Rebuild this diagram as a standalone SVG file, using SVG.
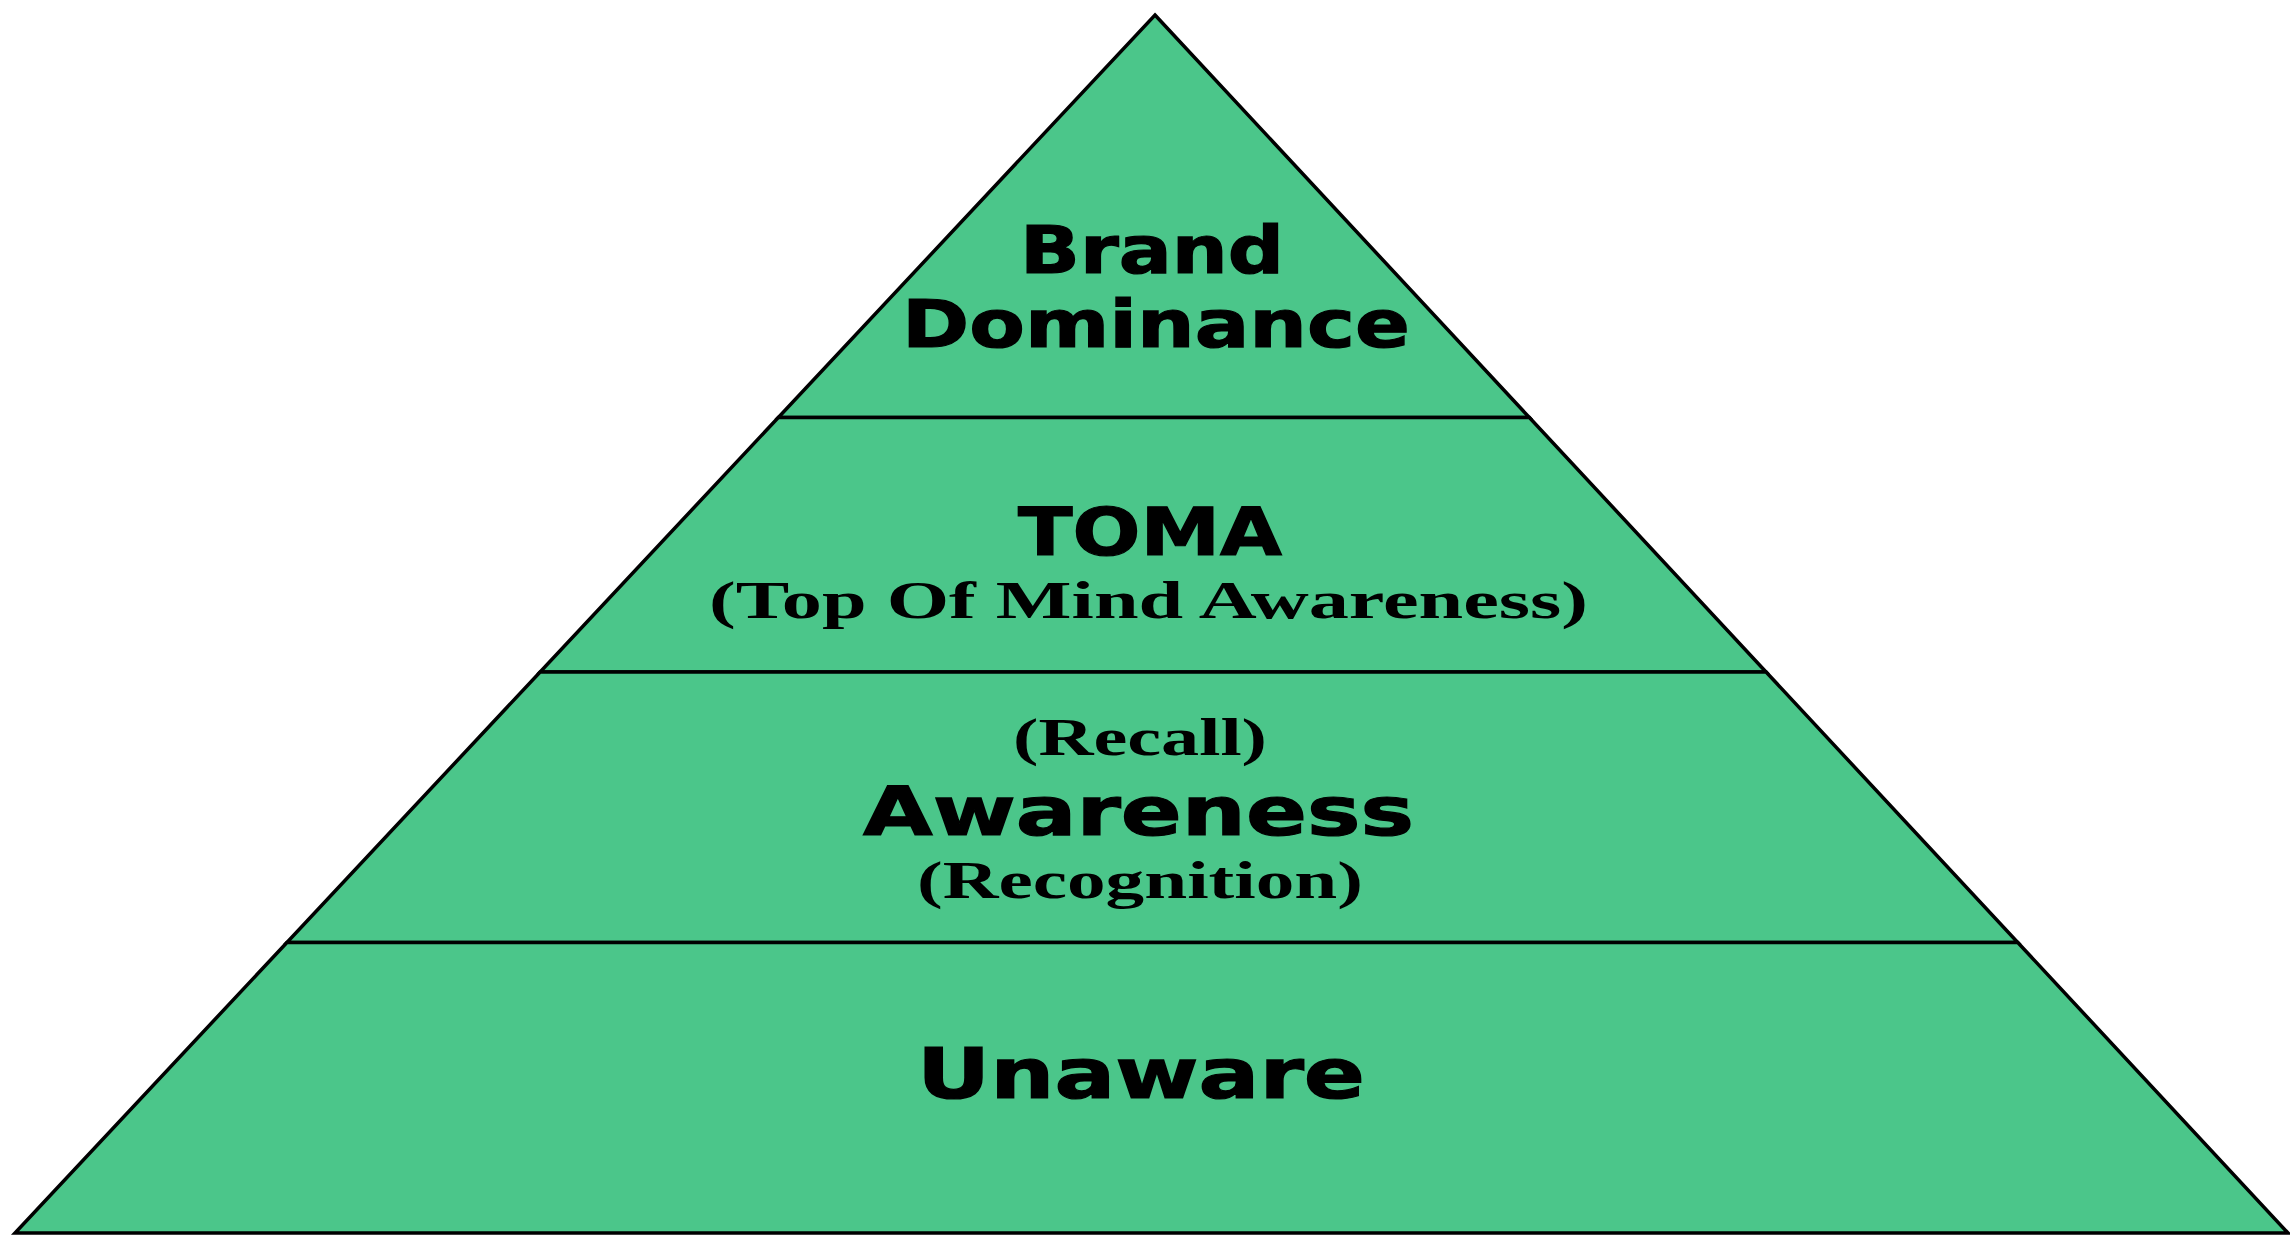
<svg xmlns="http://www.w3.org/2000/svg" width="2290" height="1236" viewBox="0 0 2290 1236">
  <style>
    .tier { fill: #4bc68a; stroke: #000; stroke-width: 3.5; stroke-linejoin: miter; }
    .head { font-family: "DejaVu Sans", Verdana, sans-serif; font-weight: bold; fill: #000; stroke: #000; stroke-width: 1.2; }
    .sub { font-family: "Liberation Serif", "Times New Roman", serif; font-weight: bold; fill: #000; }
  </style>
  <rect width="2290" height="1236" fill="#fff"/>

  <!-- apex tier -->
  <g id="tier-brand-dominance">
    <polygon class="tier" points="1155,15 1529.4,417.5 778.3,417.5"/>
    <text class="head" x="1020" y="273" font-size="65" textLength="264" lengthAdjust="spacingAndGlyphs">Brand</text>
    <text class="head" x="902" y="347" font-size="65" textLength="508" lengthAdjust="spacingAndGlyphs">Dominance</text>
  </g>

  <g id="tier-toma">
    <polygon class="tier" points="778.3,417.5 1529.4,417.5 1766.1,672 540.1,672"/>
    <text class="head" x="1018" y="555" font-size="65" textLength="264" lengthAdjust="spacingAndGlyphs">TOMA</text>
    <text class="sub" x="709" y="618" font-size="52" textLength="879" lengthAdjust="spacingAndGlyphs">(Top Of Mind Awareness)</text>
  </g>

  <g id="tier-awareness">
    <polygon class="tier" points="540.1,672 1766.1,672 2017.8,942.5 286.9,942.5"/>
    <text class="sub" x="1013" y="755" font-size="52" textLength="254" lengthAdjust="spacingAndGlyphs">(Recall)</text>
    <text class="head" x="863" y="835" font-size="68" textLength="551" lengthAdjust="spacingAndGlyphs">Awareness</text>
    <text class="sub" x="917" y="898" font-size="52" textLength="446" lengthAdjust="spacingAndGlyphs">(Recognition)</text>
  </g>

  <g id="tier-unaware">
    <polygon class="tier" points="286.9,942.5 2017.8,942.5 2288,1233 15,1233"/>
    <text class="head" x="917" y="1098" font-size="69" textLength="448" lengthAdjust="spacingAndGlyphs">Unaware</text>
  </g>

  <g id="connectors"/>
</svg>
